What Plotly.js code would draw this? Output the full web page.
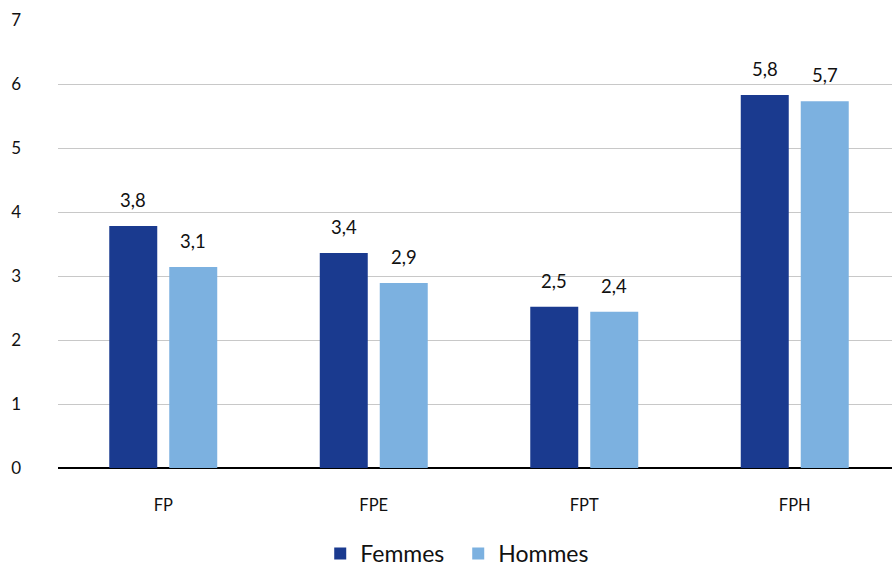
<!DOCTYPE html>
<html><head><meta charset="utf-8">
<script src="https://cdn.plot.ly/plotly-3.0.1.min.js"></script>
<style>body{margin:0;background:#fff}#c{width:892px;height:569px}</style>
</head><body><div id="c"></div>
<script>
const categories = ["FP", "FPE", "FPT", "FPH"];
const femmes = [3.78, 3.36, 2.52, 5.83];
const hommes = [3.14, 2.89, 2.44, 5.73];
const femmesLabels = ["3,8", "3,4", "2,5", "5,8"];
const hommesLabels = ["3,1", "2,9", "2,4", "5,7"];
const yTicks = [0, 1, 2, 3, 4, 5, 6, 7];

const FONT = "Lato, 'Open Sans', sans-serif";
const traces = [
  {type: "bar", name: "Femmes", x: categories, y: femmes, marker: {color: "#1a3a8f"}, hoverinfo: "none"},
  {type: "bar", name: "Hommes", x: categories, y: hommes, marker: {color: "#7cb1e0"}, hoverinfo: "none"}
];
const annotations = [];
categories.forEach((c, i) => {
  annotations.push({x: c, y: femmes[i], text: femmesLabels[i], showarrow: false, xshift: -30, yanchor: "bottom", yshift: 13, font: {family: FONT, size: 18.5, color: "#111"}});
  annotations.push({x: c, y: hommes[i], text: hommesLabels[i], showarrow: false, xshift: 30, yanchor: "bottom", yshift: 13, font: {family: FONT, size: 18.5, color: "#111"}});
});
const layout = {
  width: 892, height: 569,
  margin: {l: 58, r: 0, t: 20, b: 101},
  paper_bgcolor: "#fff", plot_bgcolor: "#fff",
  barmode: "group", bargap: 0.43, bargroupgap: 0.2,
  font: {family: FONT, size: 15, color: "#111"},
  xaxis: {range: [-0.5, 3.462], showgrid: false, ticks: "", showline: false, ticklabelstandoff: 25, tickfont: {size: 16.5}, zeroline: false},
  yaxis: {range: [0, 7], tickvals: yTicks, ticktext: yTicks.map(String), showgrid: true, gridcolor: "#c8c8c8", gridwidth: 1,
          zeroline: true, zerolinecolor: "#000", zerolinewidth: 2, showline: false, ticklabelstandoff: 36, tickfont: {size: 17}},
  showlegend: true,
  legend: {orientation: "h", x: 0.359, xanchor: "left", xref: "container", y: 0.065, yanchor: "top", yref: "container",
           entrywidth: 93, entrywidthmode: "pixels",
           font: {size: 23, color: "#111"}, itemwidth: 30, traceorder: "normal"},
  annotations: annotations
};
Plotly.newPlot("c", traces, layout, {displayModeBar: false, staticPlot: true});
</script></body></html>
